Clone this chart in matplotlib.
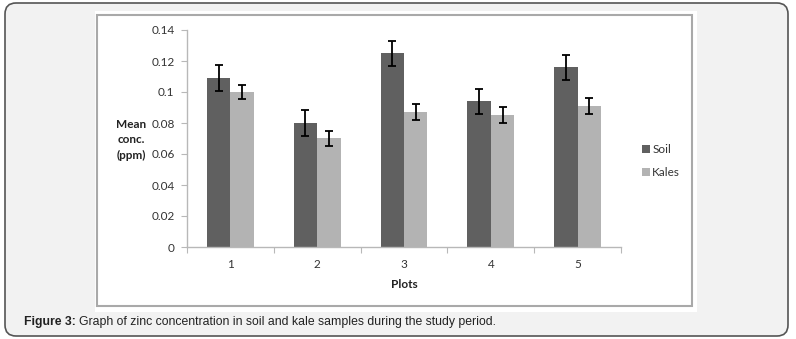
import matplotlib
matplotlib.use("Agg")
import matplotlib.pyplot as plt
import numpy as np
from matplotlib.patches import FancyBboxPatch, Rectangle
from matplotlib.transforms import IdentityTransform

plots = ["1", "2", "3", "4", "5"]
soil = [0.109, 0.080, 0.125, 0.094, 0.116]
soil_err = [0.0085, 0.0085, 0.008, 0.008, 0.008]
kales = [0.100, 0.070, 0.087, 0.085, 0.091]
kales_err = [0.0045, 0.005, 0.005, 0.005, 0.005]
yticks = [0, 0.02, 0.04, 0.06, 0.08, 0.1, 0.12, 0.14]
ytick_labels = ["0", "0.02", "0.04", "0.06", "0.08", "0.1", "0.12", "0.14"]

W, H = 796, 339
fig = plt.figure(figsize=(W / 100, H / 100), dpi=100)
fig.patch.set_facecolor("white")

def px(x0, y0, w, h):
    # top-left pixel box -> display coords (origin bottom-left)
    return x0, H - y0 - h, w, h

# outer panel with rounded corners
x, y, w, h = px(5, 3, 783, 333)
outer = FancyBboxPatch((x, y), w, h, boxstyle="round,pad=0,rounding_size=11",
                       transform=IdentityTransform(), facecolor="#f2f2f2",
                       edgecolor="#555555", linewidth=1.2, zorder=0)
fig.patches.append(outer)

# white chart area and its border
x, y, w, h = px(95, 11, 602, 301)
fig.patches.append(Rectangle((x, y), w, h, transform=IdentityTransform(),
                             facecolor="white", edgecolor="none", zorder=0.5))
x, y, w, h = px(97, 15, 595, 291)
fig.patches.append(Rectangle((x, y), w, h, transform=IdentityTransform(),
                             facecolor="none", edgecolor="#a9a9a9", linewidth=1.5, zorder=0.6))

ax = fig.add_axes([187 / W, 92 / H, 434 / W, 217 / H])
ax.set_facecolor("none")
ax.set_zorder(2)

xs = np.arange(len(plots))
bw = 0.27
errkw = dict(ecolor="black", capsize=3, elinewidth=1.3, capthick=1.3)
b1 = ax.bar(xs - bw / 2, soil, bw, yerr=soil_err, color="#606060", label="Soil", error_kw=errkw, zorder=2)
b2 = ax.bar(xs + bw / 2, kales, bw, yerr=kales_err, color="#b3b3b3", label="Kales", error_kw=errkw, zorder=2)

ax.set_xlim(-0.5, len(plots) - 0.5)
ax.set_ylim(0, 0.14)
ax.set_yticks(yticks)
ax.set_yticklabels(ytick_labels)
ax.set_xticks(np.arange(-0.5, len(plots), 1.0))
ax.set_xticklabels([])
ax.set_xticks(xs, minor=True)
ax.set_xticklabels(plots, minor=True)

for s in ["top", "right"]:
    ax.spines[s].set_visible(False)
for s in ["left", "bottom"]:
    ax.spines[s].set_color("#b8b8b8")
    ax.spines[s].set_linewidth(1.0)

ax.tick_params(axis="y", which="major", direction="out", length=4, color="#b8b8b8",
               labelsize=8.5, labelcolor="#333333", pad=5)
ax.tick_params(axis="x", which="major", direction="out", length=4, color="#b8b8b8")
ax.tick_params(axis="x", which="minor", length=0, labelsize=8.5, labelcolor="#333333", pad=9)
for lab in ax.get_yticklabels() + ax.get_xticklabels(minor=True):
    lab.set_fontfamily("Lato")

ax.set_xlabel("Plots", fontsize=8.5, fontweight="bold", fontfamily="Lato", color="#222222", labelpad=6)

fig.text(131 / W, 1 - 140 / H, "Mean\nconc.\n(ppm)", ha="center", va="center",
         fontsize=8.5, fontweight="bold", fontfamily="Lato", color="#222222", linespacing=1.45)

leg = ax.legend(handles=[b1, b2], loc="center left", bbox_to_anchor=(631 / W, 1 - 161 / H),
                bbox_transform=fig.transFigure, frameon=False, handlelength=0.7, handleheight=0.7,
                handletextpad=0.2, labelspacing=1.0, prop={"family": "Lato", "size": 8.5})
for t in leg.get_texts():
    t.set_color("#333333")

cap1 = fig.text(24 / W, 1 - 322 / H, "Figure 3:", ha="left", va="center", fontsize=8.8,
                fontweight="bold", fontfamily="Liberation Sans", color="#222222")
r = fig.canvas.get_renderer()
x_end = cap1.get_window_extent(r).x1
fig.text((x_end + 3) / W, 1 - 322 / H,
         "Graph of zinc concentration in soil and kale samples during the study period.",
         ha="left", va="center", fontsize=8.8, fontfamily="Liberation Sans", color="#222222")

fig.savefig("out.png", dpi=100)
